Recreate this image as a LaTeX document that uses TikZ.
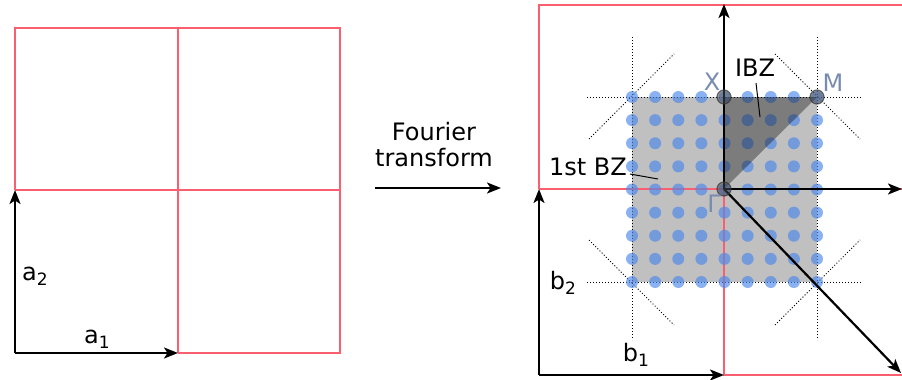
\documentclass[tikz,border=0pt]{standalone}
\usepackage{fontspec}
\setmainfont{DejaVu Sans}
\usetikzlibrary{arrows.meta}
\definecolor{latred}{RGB}{250,95,112}
\definecolor{lblue}{RGB}{120,140,175}
\definecolor{dotblue}{RGB}{75,135,235}
\definecolor{bzgray}{RGB}{192,192,192}
\tikzset{
  lattice/.style={latred,line width=2pt},
  vec/.style={black,line width=2.2pt,-{Stealth[length=14pt,width=11pt,inset=3.5pt]}},
  bragg/.style={black,dotted,line width=1pt},
  kdot/.style={circle,fill=dotblue,fill opacity=0.65,inner sep=0pt,minimum size=12pt},
  hsp/.style={circle,fill=black!70,fill opacity=0.5,draw=black!80,draw opacity=0.7,line width=1.2pt,inner sep=0pt,minimum size=14pt},
  lbl/.style={font=\fontsize{24}{26}\selectfont,inner sep=0pt,anchor=base},
  hlbl/.style={lbl,text=lblue},
  leader/.style={black,line width=1pt},
}
\newcommand{\subsc}[1]{\raisebox{-5pt}{\fontsize{17}{17}\selectfont #1}}
\begin{document}
\begin{tikzpicture}[x=1pt,y=-1pt]
\useasboundingbox (0,0) rectangle (902,380);
% ---------- left: real-space lattice ----------
\coordinate (O) at (15,353);
\coordinate (A1) at (178,353);
\coordinate (A2) at (15,190);
\draw[lattice] (15,190) -- (15,28) -- (340,28) -- (340,353) -- (178,353);
\draw[lattice] (178,28) -- (178,353);
\draw[lattice] (15,190) -- (340,190);
\draw[vec] (O) -- (A1);
\draw[vec] (O) -- (A2);
\node[lbl] (a1) at (97,343) {a\subsc{1}};
\node[lbl] (a2) at (35,280) {a\subsc{2}};
% ---------- Fourier transform ----------
\node[font=\fontsize{24}{26}\selectfont,align=center,inner sep=0pt] (ft) at (434,145) {Fourier\\transform};
\coordinate (ftS) at (375,188);
\coordinate (ftE) at (501,188);
\draw[vec] (ftS) -- (ftE);
% ---------- right: reciprocal lattice ----------
\fill[bzgray] (632,97) rectangle (817,282);
\draw[lattice] (539,189) -- (539,4.5) -- (910,4.5);
\draw[lattice] (539,189) -- (910,189);
\draw[lattice] (724,4.5) -- (724,375) -- (910,375);
% Bragg planes
\draw[bragg] (587,97) -- (862,97);
\draw[bragg] (587,282) -- (862,282);
\draw[bragg] (632,37) -- (632,340);
\draw[bragg] (817,37) -- (817,340);
\draw[bragg] (589,139) -- (674,54);
\draw[bragg] (775,54) -- (860,139);
\draw[bragg] (589,240) -- (674,325);
\draw[bragg] (775,325) -- (860,240);
% k-point grid
\foreach \i in {0,...,8}{
  \foreach \j in {0,...,8}{
    \node[kdot] (k\i\j) at ({632+\i*23.125},{97+\j*23.125}) {};
  }
}
% IBZ
\coordinate (G) at (724,189);
\coordinate (X) at (724,97);
\coordinate (M) at (817,97);
\fill[black,fill opacity=0.35] (G) -- (X) -- (M) -- cycle;
% axes
\coordinate (ky) at (724,4);
\coordinate (kx) at (902,189);
\coordinate (kd) at (901,373);
\draw[vec] (G) -- (ky);
\draw[vec] (G) -- (kx);
\draw[vec] (G) -- (kd);
% b vectors
\coordinate (B0) at (539,375);
\coordinate (B1) at (724,375);
\coordinate (B2) at (539,189);
\draw[vec] (B0) -- (B1);
\draw[vec] (B0) -- (B2);
% high symmetry points
\node[hsp] (pG) at (G) {};
\node[hsp] (pX) at (X) {};
\node[hsp] (pM) at (M) {};
\node[hlbl] (lX) at (712,90) {X};
\node[hlbl] (lM) at (833,91) {M};
\node[hlbl] (lG) at (714,212) {Γ};
\node[lbl] (ibz) at (755,76) {IBZ};
\node[lbl] (bz) at (588,175) {1st BZ};
\coordinate (ibzL1) at (756,83);
\coordinate (ibzL2) at (760,117);
\draw[leader] (ibzL1) -- (ibzL2);
\coordinate (bzL1) at (630,174);
\coordinate (bzL2) at (658,179);
\draw[leader] (bzL1) -- (bzL2);
\node[lbl] (b1) at (636,361) {b\subsc{1}};
\node[lbl] (b2) at (563,289) {b\subsc{2}};
\end{tikzpicture}
\end{document}
